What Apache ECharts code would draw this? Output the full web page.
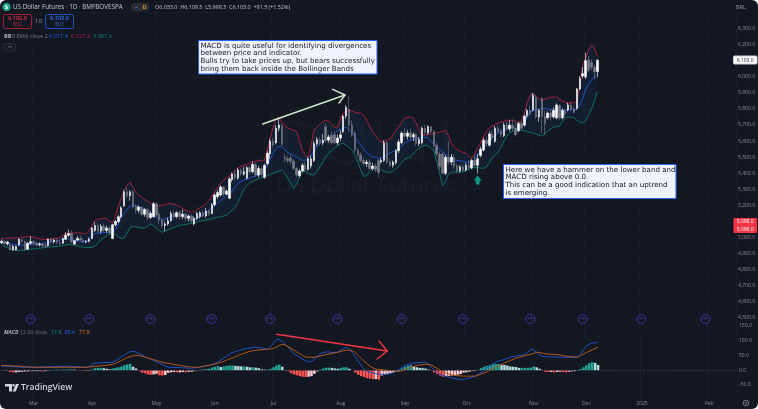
<!DOCTYPE html>
<html>
<head>
<meta charset="utf-8">
<title>US Dollar Futures</title>
<script src="https://cdn.jsdelivr.net/npm/echarts@6/dist/echarts.min.js"></script>
<style>
  html, body { margin: 0; padding: 0; background: #fff; }
  #echartzone { width: 758px; height: 409px; background: #131722; border-radius: 6px; overflow: hidden; }
</style>
</head>
<body>
<div id="echartzone"></div>
<script>
// candles, one [open, close, low, high] per daily bar
const candles = [
  [4968,4978,4960,4990],[4978,4962,4955,4985],[4962,4972,4950,4980],[4955,4925,4920,4965],[4925,4945,4918,4955],
  [4925,4945,4920,4950],[4955,4990,4950,4995],[4988,4975,4965,4995],[4975,4925,4918,4982],[4928,4965,4922,4972],
  [4965,4975,4955,5008],[4975,4965,4955,4985],[4965,4955,4945,4975],[4955,4960,4945,4970],[4960,4950,4940,4968],
  [4950,4945,4935,4962],[4950,4990,4945,4995],[4990,4975,4965,4998],[4975,4985,4962,4992],[4985,4970,4960,4995],
  [4970,4965,4955,4982],[4965,4995,4960,5000],[4990,5015,4985,5035],[5015,5025,5005,5050],[5025,4975,4965,5045],
  [4960,4980,4955,4985],[4985,4995,4978,5010],[4995,4985,4975,5015],[4985,4975,4965,4995],[4975,4978,4965,4985],
  [4978,4990,4970,5000],[4995,5060,4990,5065],[5045,5075,5035,5095],[5075,5040,5030,5090],[5040,5070,5025,5085],
  [5070,5045,5035,5090],[5045,5060,5030,5075],[5060,5030,5020,5070],[4995,5080,4990,5085],[5080,5100,5070,5110],
  [5100,5130,5090,5140],[5130,5185,5120,5195],[5200,5285,5190,5295],[5285,5260,5245,5310],[5260,5285,5230,5295],
  [5285,5190,5180,5295],[5195,5170,5150,5205],[5170,5190,5155,5200],[5190,5145,5135,5195],[5145,5175,5130,5185],
  [5175,5125,5110,5185],[5125,5150,5115,5165],[5130,5210,5125,5222],[5210,5140,5130,5220],[5145,5110,5085,5160],
  [5110,5075,5060,5125],[5075,5085,5040,5100],[5085,5105,5075,5125],[5105,5150,5100,5165],[5150,5130,5115,5170],
  [5130,5155,5120,5165],[5155,5130,5110,5170],[5130,5145,5115,5175],[5145,5120,5105,5155],[5120,5135,5100,5145],
  [5135,5105,5090,5145],[5085,5120,5075,5130],[5120,5150,5110,5160],[5130,5155,5120,5165],[5155,5135,5125,5170],
  [5135,5165,5125,5185],[5165,5145,5135,5175],[5150,5205,5145,5215],[5205,5265,5195,5275],[5255,5280,5240,5295],
  [5265,5315,5255,5325],[5315,5270,5255,5320],[5270,5290,5265,5300],[5245,5365,5240,5375],[5360,5395,5345,5405],
  [5395,5370,5355,5420],[5370,5420,5360,5435],[5420,5395,5385,5430],[5395,5410,5385,5440],[5370,5435,5360,5445],
  [5435,5410,5395,5450],[5410,5455,5400,5475],[5455,5390,5380,5465],[5390,5430,5375,5445],[5430,5395,5380,5440],
  [5375,5450,5365,5460],[5460,5525,5450,5540],[5520,5600,5490,5615],[5600,5575,5560,5620],[5590,5680,5580,5700],
  [5680,5700,5660,5745],[5695,5580,5570,5705],[5500,5490,5470,5520],[5490,5480,5465,5510],[5495,5475,5460,5520],
  [5475,5430,5420,5490],[5430,5390,5375,5440],[5385,5415,5375,5425],[5415,5450,5405,5465],[5450,5425,5410,5470],
  [5425,5490,5415,5500],[5445,5490,5430,5510],[5480,5585,5470,5600],[5585,5610,5570,5625],[5610,5590,5575,5625],
  [5590,5605,5575,5645],[5690,5605,5590,5710],[5605,5625,5590,5640],[5635,5590,5580,5660],[5640,5590,5580,5660],
  [5590,5620,5575,5640],[5620,5640,5600,5670],[5660,5755,5650,5765],[5755,5810,5740,5825],[5800,5700,5660,5880],
  [5700,5640,5625,5730],[5650,5545,5530,5665],[5545,5515,5505,5555],[5515,5480,5465,5530],[5480,5460,5445,5500],
  [5460,5470,5440,5485],[5470,5430,5420,5490],[5430,5445,5415,5465],[5445,5420,5405,5460],[5480,5405,5375,5490],
  [5470,5480,5460,5495],[5480,5590,5470,5605],[5590,5470,5460,5600],[5470,5450,5440,5490],[5450,5470,5435,5480],
  [5465,5540,5455,5550],[5540,5595,5525,5610],[5590,5650,5580,5660],[5650,5630,5620,5680],[5630,5650,5610,5670],
  [5650,5625,5610,5675],[5625,5640,5600,5655],[5640,5585,5570,5650],[5585,5610,5570,5625],[5590,5680,5580,5690],
  [5680,5655,5640,5700],[5650,5690,5640,5700],[5690,5660,5645,5695],[5660,5575,5560,5670],[5575,5520,5505,5590],
  [5520,5440,5420,5535],[5520,5400,5395,5530],[5400,5500,5390,5515],[5500,5470,5455,5600],[5470,5500,5450,5520],
  [5500,5445,5430,5515],[5445,5415,5400,5460],[5415,5440,5405,5450],[5440,5420,5405,5460],[5420,5450,5410,5465],
  [5450,5435,5425,5480],[5435,5480,5425,5490],[5480,5450,5440,5520],[5450,5490,5400,5520],[5510,5550,5500,5565],
  [5545,5605,5535,5620],[5605,5585,5570,5625],[5575,5645,5565,5660],[5645,5620,5605,5670],[5600,5680,5590,5695],
  [5680,5660,5650,5700],[5660,5640,5625,5680],[5635,5700,5625,5715],[5700,5675,5665,5725],[5675,5700,5660,5730],
  [5700,5680,5660,5735],[5680,5640,5630,5720],[5665,5710,5655,5720],[5710,5680,5670,5725],[5700,5755,5690,5765],
  [5760,5790,5745,5800],[5790,5770,5760,5820],[5795,5885,5785,5900],[5870,5750,5740,5885],[5750,5790,5720,5800],
  [5865,5755,5650,5875],[5755,5710,5640,5790],[5745,5775,5735,5785],[5775,5750,5730,5800],[5750,5790,5740,5810],
  [5745,5825,5735,5835],[5820,5745,5730,5830],[5745,5790,5735,5805],[5790,5770,5755,5800],[5795,5825,5785,5840],
  [5825,5800,5785,5845],[5800,5780,5770,5815],[5805,5925,5795,5930],[5925,5990,5915,6005],[6005,6020,5990,6060],
  [6000,6100,5985,6150],[6105,6040,6030,6130],[6090,6060,6040,6110],[6060,6030,5985,6075],[6033,6103,5998,6110]
];

const bbUpper = [
  4995,4995,4996,4996,4997,4997,4999,5001,5004,5008,5008,5002,4996,4992,4989,4989,4989,4992,4995,4995,
  5001,5014,5026,5026,5028,5030,5030,5028,5026,5024,5045,5076,5108,5114,5117,5120,5120,5101,5089,5132,
  5195,5244,5294,5325,5344,5313,5282,5263,5251,5238,5226,5213,5207,5201,5195,5201,5207,5210,5213,5207,
  5201,5192,5182,5170,5163,5157,5163,5176,5185,5195,5213,5232,5257,5282,5313,5338,5357,5369,5382,5394,
  5413,5431,5444,5450,5456,5463,5469,5475,5478,5481,5481,5543,5618,5687,5743,5749,5718,5693,5681,5674,
  5668,5662,5606,5543,5512,5500,5575,5668,5687,5705,5718,5731,5724,5705,5687,5681,5731,5774,5786,5793,
  5786,5780,5774,5774,5761,5731,5693,5662,5637,5612,5593,5600,5606,5612,5637,5668,5687,5718,5743,5749,
  5749,5743,5712,5668,5637,5637,5643,5643,5650,5650,5656,5662,5668,5637,5587,5562,5550,5537,5531,5525,
  5506,5494,5519,5556,5587,5625,5662,5681,5693,5706,5712,5718,5724,5730,5730,5730,5724,5718,5724,5774,
  5836,5886,5899,5880,5861,5855,5861,5867,5874,5874,5874,5861,5849,5842,5836,5836,5842,5842,5948,6073,
  6117,6166,6198,6179,6127
];
const bbBasis = [
  4970,4968,4965,4962,4959,4956,4953,4952,4953,4955,4957,4959,4961,4963,4964,4966,4969,4973,4977,4981,
  4985,4990,4995,4992,4988,4984,4980,4976,4972,4970,4995,5015,5026,5028,5030,5031,5032,5033,5034,5050,
  5085,5126,5150,5175,5195,5201,5198,5190,5183,5175,5165,5155,5140,5125,5115,5107,5115,5122,5130,5138,
  5145,5151,5142,5132,5122,5110,5107,5120,5132,5144,5155,5170,5185,5200,5215,5230,5244,5258,5272,5290,
  5315,5338,5350,5358,5365,5372,5378,5383,5388,5395,5415,5450,5490,5525,5555,5568,5562,5545,5530,5520,
  5510,5500,5490,5481,5481,5490,5510,5540,5565,5585,5600,5610,5618,5630,5650,5665,5672,5680,5687,5670,
  5650,5625,5600,5575,5550,5530,5515,5500,5500,5494,5495,5505,5515,5525,5535,5545,5555,5570,5585,5600,
  5606,5612,5618,5620,5624,5624,5622,5600,5580,5565,5550,5535,5520,5505,5490,5483,5480,5478,5475,5470,
  5470,5468,5490,5515,5540,5560,5580,5600,5620,5635,5650,5660,5672,5680,5685,5683,5680,5675,5685,5710,
  5750,5785,5790,5795,5800,5805,5803,5800,5798,5795,5795,5793,5793,5793,5793,5793,5795,5800,5825,5865,
  5925,5955,5980,6000,6017
];
const bbLower = [
  4952,4945,4938,4930,4922,4921,4920,4921,4923,4925,4927,4930,4932,4934,4936,4938,4940,4942,4944,4946,
  4948,4950,4953,4958,4956,4952,4948,4944,4941,4939,4938,4939,4948,4965,4985,5000,5012,5022,5026,5020,
  5005,4995,4998,5030,5060,5070,5068,5062,5060,5058,5070,5085,5075,5060,5045,5033,5040,5048,5055,5062,
  5070,5076,5078,5081,5085,5089,5092,5097,5102,5106,5110,5113,5118,5122,5126,5130,5134,5138,5155,5170,
  5188,5220,5260,5300,5325,5338,5348,5358,5366,5372,5378,5385,5392,5400,5408,5413,5419,5400,5370,5340,
  5305,5330,5375,5415,5412,5400,5392,5388,5410,5440,5470,5500,5525,5540,5555,5570,5582,5587,5575,5560,
  5544,5510,5470,5420,5380,5385,5410,5430,5438,5430,5420,5412,5408,5406,5412,5425,5445,5465,5485,5495,
  5500,5520,5540,5555,5570,5575,5570,5555,5544,5470,5400,5325,5345,5395,5406,5408,5408,5406,5412,5419,
  5425,5432,5435,5435,5433,5431,5438,5465,5495,5515,5531,5560,5600,5630,5650,5660,5665,5668,5668,5665,
  5660,5655,5650,5645,5638,5631,5645,5660,5675,5687,5690,5693,5720,5745,5749,5749,5745,5730,5716,5712,
  5725,5760,5800,5850,5908
];

const macdLine = [
  14,14,13,13,12,12,11,10,10,10,10,11,11,11,11,12,12,12,12,13,
  13,13,14,13,13,12,12,11,11,10,12,18,24,25,25,26,26,27,27,32,
  38,45,52,58,63,64,62,57,52,46,41,37,33,28,24,19,14,10,10,10,
  9,9,8,8,7,7,8,9,11,13,15,17,19,24,29,35,41,48,54,60,
  63,66,69,72,74,76,77,78,77,76,74,71,80,92,103,105,98,88,78,68,
  56,50,44,38,32,28,30,38,47,55,60,62,62,60,61,61,68,73,78,72,
  60,45,30,15,3,-3,-6,-9,-11,-13,-14,-14,-14,-12,-8,-3,3,10,16,20,
  22,24,25,26,27,27,20,10,0,-8,-14,-18,-20,-23,-26,-28,-30,-31,-31,-29,
  -26,-23,-20,-14,-8,0,8,15,21,27,31,34,37,40,44,47,48,50,51,55,
  62,70,71,60,52,47,46,46,45,45,45,44,44,44,44,44,44,45,55,70,
  82,88,92,93,95.6
];
const macdSignal = [
  17,16,16,15,15,14,14,13,12,12,11,10,10,10,10,10,10,10,10,10,
  10,10,10,10,10,10,10,10,10,10,11,12,13,14,15,16,17,18,20,23,
  28,33,38,43,46,49,51,50,48,45,42,39,36,33,30,27,25,24,22,20,
  18,16,15,13,12,11,10,10,11,13,15,17,19,21,24,27,30,34,38,42,
  46,50,54,58,61,64,66,68,69,70,71,71,72,74,78,84,88,86,80,74,
  68,62,56,50,45,44,44,44,46,48,51,53,55,57,59,61,64,66,68,68,
  66,60,50,40,30,22,14,8,4,3,2,1,0,-1,-2,-3,-3,-2,2,6,
  10,13,16,18,19,20,20,17,12,6,0,-6,-10,-13,-15,-17,-18,-19,-20,-20,
  -20,-20,-20,-17,-13,-9,-5,0,5,10,14,19,24,29,33,37,41,44,47,50,
  52,54,57,61,60,58,56,55,54,54,53,52,50,48,47,46,45,44,50,55,
  60,65,69,74,77.8
];
const macdHist = [
  0,-1,-1,-6,-7,-7,-6,-5,-4,-4,-3,-3,-3,-3,-4,-3,-2,1,2,2,
  1,2,2,3,3,2,0,-1,-2,-2,-3,3,7,8,8,7,5,3,6,8,
  10,13,17,20,22,12,6,-2,-8,-10,-14,-15,-14,-12,-17,-18,-16,-9,-7,-6,
  -7,-7,-6,-7,-5,-5,-3,-1,2,3,4,5,9,12,14,11,13,15,16,16,
  15,14,13,13,12,10,10,9,7,3,2,2,5,10,16,19,12,1,-3,-10,
  -14,-17,-20,-22,-23,-22,-20,-12,-4,2,6,9,9,8,6,5,8,10,10,5,
  0,-8,-15,-20,-23,-27,-28,-30,-30,-32,-18,-14,-12,-10,-8,-5,-3,6,12,16,
  17,12,10,8,7,6,2,-1,-7,-13,-18,-22,-20,-19,-18,-17,-15,-13,-8,-7,
  -5,-3,-2,1,7,12,15,18,20,21,21,19,18,16,13,12,11,8,8,8,
  8,9,13,10,5,1,-5,-6,-6,-7,-6,-5,-6,-7,-5,-4,-3,-1,4,10,
  17,24,27,25,17.8
];

// time axis
const tickBars = [11, 31, 53, 73, 93, 116, 138, 159, 182, 200, 219, 242];
const tickLabels = ['Mar', 'Apr', 'May', 'Jun', 'Jul', 'Aug', 'Sep', 'Oct', 'Nov', 'Dec', '2025', 'Feb'];
const sessionBars = [10, 30, 51, 72, 92, 115, 137, 158, 181, 199, 219, 241];
const sessionPrice = 4494;
const barSlots = 252;

const BG = '#131722';
const GRIDLINE = '#181c28';
const AXISTEXT = '#8b8f9a';
const UI = '"Open Sans", "Noto Sans", sans-serif';
const NOTE = '"DejaVu Sans", sans-serif';

const categories = Array.from({ length: barSlots }, (_, i) => String(i));
const isTick = (i) => tickBars.indexOf(i) >= 0;

function txt(text, x, y, fill, size, extra) {
  return {
    type: 'text', silent: true, z: 100,
    style: Object.assign({
      text: text, x: x, y: y, fill: fill, font: (size || 6) + 'px ' + UI,
      textVerticalAlign: 'middle'
    }, extra || {})
  };
}
function box(x, y, w, h, fill, stroke, r) {
  return { type: 'rect', silent: true, z: 99, shape: { x: x, y: y, width: w, height: h, r: r || 0 },
    style: { fill: fill, stroke: stroke || null, lineWidth: stroke ? 1 : 0 } };
}
function line(points, stroke, width) {
  return { type: 'polyline', silent: true, z: 100, shape: { points: points },
    style: { fill: null, stroke: stroke, lineWidth: width, lineCap: 'round', lineJoin: 'round' } };
}
function note(x, y, w, h, lines) {
  const out = [box(x, y, w, h, '#f0f3fa', '#2962ff')];
  lines.forEach((l, i) => {
    out.push(txt(l, x + 2, y + 5.4 + i * 7.65, '#131722', 7.1, { font: '7.1px ' + NOTE }));
  });
  return out;
}

const graphics = [
  // watermark
  Object.assign(txt('DOL1!', 366, 147, 'rgba(255,255,255,0.02)', 62, { textAlign: 'center', font: '62px ' + UI }), { z: 0 }),
  Object.assign(txt('US Dollar Futures', 366, 187, 'rgba(255,255,255,0.03)', 22, { textAlign: 'center', font: '22px ' + UI }), { z: 0 }),
  // header
  { type: 'circle', silent: true, z: 100, shape: { cx: 6.5, cy: 7, r: 4 }, style: { fill: '#1fa58a' } },
  txt('$', 6.5, 7, '#fff', 6, { textAlign: 'center', font: 'bold 6px ' + UI }),
  txt('US Dollar Futures · 1D · BMFBOVESPA', 13, 7, '#c4c7d0', 6.3),
  box(131, 3, 18, 8, '#2a2e39', null, 4),
  txt('–', 136, 7, '#b2b5be', 5.5, { textAlign: 'center' }),
  txt('D', 144.5, 7, '#e08a1e', 5.5, { textAlign: 'center', font: 'bold 5.5px ' + UI }),
  txt('O6,033.0  H6,109.5  L5,998.5  C6,103.0  +91.5 (+1.52%)', 155, 7, '#c4c7d0', 5.4),
  box(3.5, 14.5, 28, 14, 'transparent', '#a51f33', 2),
  txt('6,102.0', 17.5, 18.5, '#c22a3e', 5.5, { textAlign: 'center', font: 'bold 5.5px ' + UI }),
  txt('SELL', 17.5, 24.5, '#c22a3e', 4.5, { textAlign: 'center' }),
  txt('1.0', 38.5, 21.5, '#b2b5be', 4.8, { textAlign: 'center' }),
  box(45.5, 14.5, 28, 14, 'transparent', '#1e4ec4', 2),
  txt('6,103.0', 59.5, 18.5, '#2e62e0', 5.5, { textAlign: 'center', font: 'bold 5.5px ' + UI }),
  txt('BUY', 59.5, 24.5, '#2e62e0', 4.5, { textAlign: 'center' }),
  txt('BB', 4, 36, '#b2b5be', 5.6, { font: 'bold 5.6px ' + UI }),
  txt('8 EMA close 2', 12, 36, '#787b86', 5.6),
  txt('6,017.4', 49, 36, '#2962ff', 5.6),
  txt('6,127.2', 71, 36, '#b3263b', 5.6),
  txt('5,907.6', 93, 36, '#10806c', 5.6),
  box(4.5, 43.5, 11, 7.5, 'transparent', '#2a2e39', 1),
  line([[8, 47.6], [10, 46], [12, 47.6]], '#8b8f9a', 0.7),
  txt('BRL', 741, 7, '#9598a1', 5.6, { textAlign: 'center' }),
  // macd legend
  txt('MACD', 4, 332.5, '#b2b5be', 5.2, { font: 'italic bold 5.2px ' + UI }),
  txt('12 26 close', 20, 332.5, '#787b86', 5.2),
  txt('17.8', 51, 332.5, '#1a9c88', 5.4),
  txt('95.6', 64.5, 332.5, '#2962ff', 5.4),
  txt('77.8', 79, 332.5, '#e0711c', 5.4),
  // TradingView mark
  { type: 'polygon', silent: true, z: 100, shape: { points: [[5, 384], [12, 384], [12, 391.5], [9, 391.5], [9, 386.5], [5, 386.5]] }, style: { fill: '#d1d4dc' } },
  { type: 'circle', silent: true, z: 100, shape: { cx: 13.6, cy: 385.3, r: 1.3 }, style: { fill: '#d1d4dc' } },
  { type: 'polygon', silent: true, z: 100, shape: { points: [[16, 384], [19, 384], [15.6, 391.5], [12.6, 391.5]] }, style: { fill: '#d1d4dc' } },
  txt('TradingView', 21, 387.5, '#d1d4dc', 8.6, { font: '600 8.6px ' + UI }),
  // settings gear
  { type: 'circle', silent: true, z: 100, shape: { cx: 746, cy: 403, r: 2.8 }, style: { fill: null, stroke: '#8b8f9a', lineWidth: 0.8 } },
  { type: 'circle', silent: true, z: 100, shape: { cx: 746, cy: 403, r: 1 }, style: { fill: null, stroke: '#8b8f9a', lineWidth: 0.6 } },
  // price tags
  box(733.5, 56, 23.5, 8, '#fff', '#cfd2da', 1),
  txt('6,103.0', 745.2, 60.2, '#131722', 5, { textAlign: 'center' }),
  box(733.5, 218, 23.5, 15, '#f23645', null, 1),
  txt('5,098.0', 745.2, 221.8, '#fff', 5, { textAlign: 'center' }),
  txt('5,098.0', 745.2, 229.2, '#fff', 5, { textAlign: 'center' }),
  // drawings
  line([[262.7, 124], [345, 95]], '#cfe8cf', 1.4),
  line([[332.7, 89.3], [345, 95], [339, 103]], '#cfe8cf', 1.4),
  line([[276.7, 334.3], [387.3, 351]], '#f23645', 1.4),
  line([[379, 341], [387.3, 351], [377, 359]], '#f23645', 1.4),
  { type: 'polygon', silent: true, z: 100,
    shape: { points: [[477.7, 175.5], [481.6, 180.5], [479.6, 180.5], [479.6, 184.6], [475.8, 184.6], [475.8, 180.5], [473.8, 180.5]] },
    style: { fill: '#089981' } }
].concat(
  note(198.5, 40.5, 178.5, 33.5, [
    'MACD is quite useful for identifying divergences',
    'between price and indicator.',
    'Bulls try to take prices up, but bears successfully',
    'bring them back inside the Bollinger Bands'
  ]),
  note(503.5, 164.5, 172.5, 34, [
    'Here we have a hammer on the lower band and',
    'MACD rising above 0.0.',
    'This can be a good indication that an uptrend',
    'is emerging.'
  ])
);

function priceLabel(v) {
  if (v > 6300 || v < 4500) return '';
  return v.toLocaleString('en-US', { minimumFractionDigits: 1, maximumFractionDigits: 1 });
}
function macdLabel(v) {
  if (v < -50) return '';
  return v.toFixed(1);
}
function histColor(p) {
  const v = p.value;
  const prev = p.dataIndex > 0 ? macdHist[p.dataIndex - 1] : v;
  if (v >= 0) return v >= prev ? '#26a69a' : '#b2dfdb';
  return v >= prev ? '#ffcdd2' : '#ff5252';
}

const chart = echarts.init(document.getElementById('echartzone'), null, { renderer: 'canvas' });

const option = {
  animation: false,
  backgroundColor: 'transparent',
  graphic: graphics,
  grid: [
    { left: 0, right: 21, top: 12.5, height: 321.6 },
    { left: 0, right: 21, top: 326, height: 73.75 }
  ],
  xAxis: [0, 1].map((g) => ({
    type: 'category',
    gridIndex: g,
    data: categories,
    boundaryGap: true,
    axisLine: { show: false },
    axisTick: { show: false },
    splitLine: { show: true, interval: (i) => isTick(i), lineStyle: { color: GRIDLINE, width: 1 } },
    axisLabel: {
      show: g === 1,
      interval: (i) => isTick(i),
      formatter: (v, i) => tickLabels[tickBars.indexOf(i)] || '',
      color: AXISTEXT,
      fontSize: 5,
      fontFamily: UI,
      margin: 1
    }
  })),
  yAxis: [
    {
      type: 'value', gridIndex: 0, position: 'right', min: 4400, max: 6400, interval: 100,
      axisLine: { show: false }, axisTick: { show: false },
      splitLine: { lineStyle: { color: GRIDLINE, width: 1 } },
      axisLabel: { formatter: priceLabel, color: AXISTEXT, fontSize: 5, fontFamily: UI, margin: 2 }
    },
    {
      type: 'value', gridIndex: 1, position: 'right', min: -100, max: 150, interval: 50,
      axisLine: { show: false }, axisTick: { show: false },
      splitLine: { show: false },
      axisLabel: { formatter: macdLabel, color: AXISTEXT, fontSize: 5, fontFamily: UI, margin: 2 }
    }
  ],
  series: [
    {
      // bollinger background
      type: 'custom', xAxisIndex: 0, yAxisIndex: 0, silent: true, z: 1, data: [0],
      renderItem: function (params, api) {
        const top = bbUpper.map((v, i) => api.coord([i, v]));
        const bottom = bbLower.map((v, i) => api.coord([i, v])).reverse();
        return { type: 'polygon', shape: { points: top.concat(bottom) }, style: { fill: 'rgba(33,110,210,0.085)' } };
      }
    },
    {
      type: 'scatter', xAxisIndex: 0, yAxisIndex: 0, silent: true, z: 2,
      data: sessionBars.map((b) => [b, sessionPrice]),
      symbolSize: 9,
      itemStyle: { color: 'transparent', borderColor: '#5232c4', borderWidth: 1 },
      label: { show: true, position: 'inside', formatter: '>>', color: '#6a48dc', fontSize: 4.5, fontFamily: UI, fontWeight: 'bold' }
    },
    { type: 'line', xAxisIndex: 0, yAxisIndex: 0, silent: true, z: 3, data: bbUpper, showSymbol: false, lineStyle: { color: '#a4203a', width: 1 } },
    { type: 'line', xAxisIndex: 0, yAxisIndex: 0, silent: true, z: 3, data: bbBasis, showSymbol: false, lineStyle: { color: '#2052c4', width: 1 } },
    { type: 'line', xAxisIndex: 0, yAxisIndex: 0, silent: true, z: 3, data: bbLower, showSymbol: false, lineStyle: { color: '#0f7362', width: 1 } },
    {
      type: 'candlestick', xAxisIndex: 0, yAxisIndex: 0, silent: true, z: 4,
      data: candles, barWidth: 2,
      itemStyle: { color: '#ffffff', color0: '#787b86', borderColor: '#ffffff', borderColor0: '#787b86', borderWidth: 0.6 }
    },
    {
      type: 'bar', xAxisIndex: 1, yAxisIndex: 1, silent: true, z: 2,
      data: macdHist, barWidth: 2.5,
      itemStyle: { color: histColor },
      markLine: {
        silent: true, symbol: 'none', label: { show: false },
        lineStyle: { color: '#3a3f4c', type: 'dashed', width: 0.7 },
        data: [{ yAxis: 0 }]
      }
    },
    { type: 'line', xAxisIndex: 1, yAxisIndex: 1, silent: true, z: 3, data: macdLine, showSymbol: false, lineStyle: { color: '#2052c4', width: 1 } },
    { type: 'line', xAxisIndex: 1, yAxisIndex: 1, silent: true, z: 3, data: macdSignal, showSymbol: false, lineStyle: { color: '#b5591a', width: 1 } }
  ]
};
chart.setOption(option);
</script>
</body>
</html>
